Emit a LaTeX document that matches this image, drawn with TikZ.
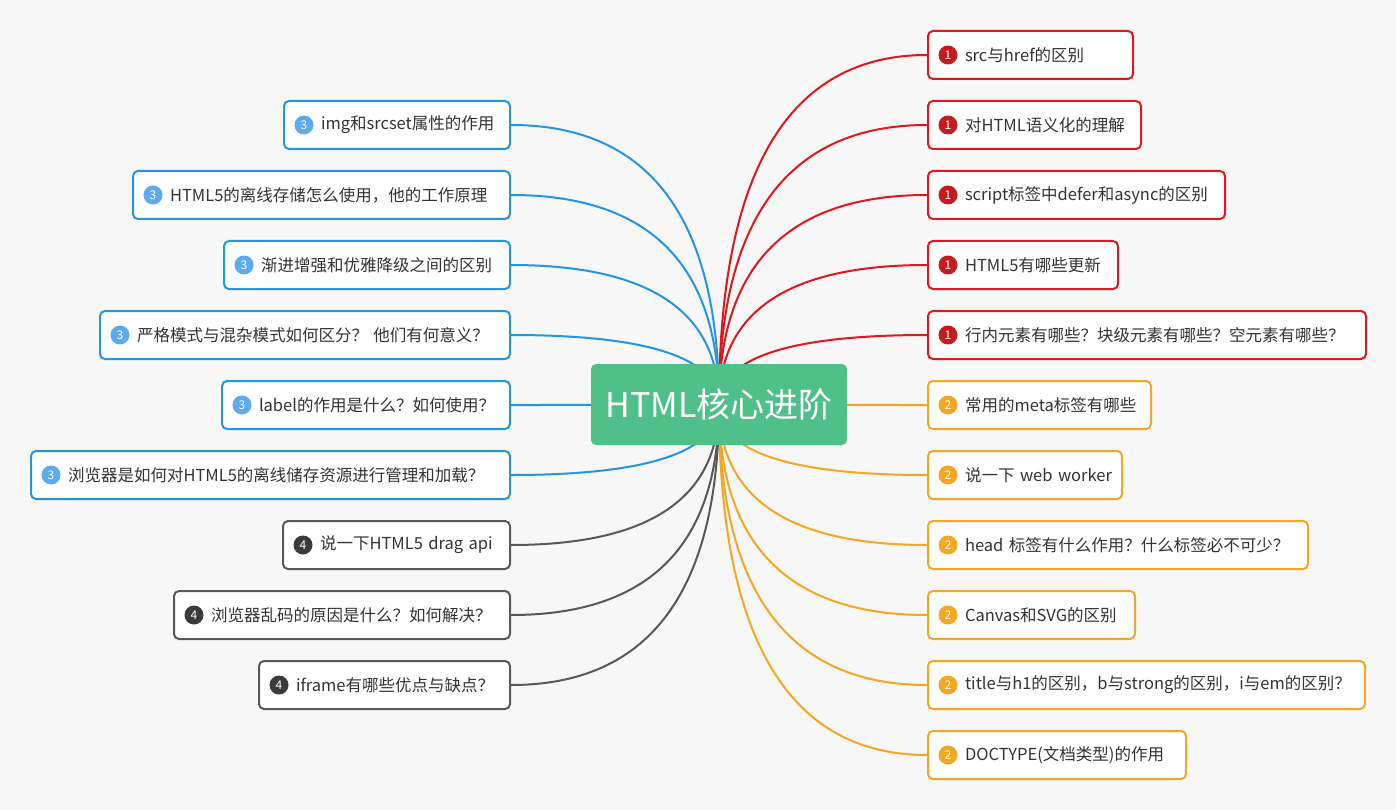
\documentclass[tikz,border=0pt]{standalone}
\usepackage{fontspec}
\setmainfont{Noto Sans CJK SC}
\usepackage{xcolor}
\usepackage{tikz}
\usetikzlibrary{positioning,calc}
\pgfdeclarelayer{back}
\pgfdeclarelayer{edges}
\pgfsetlayers{back,edges,main}
\definecolor{bggray}{RGB}{247,247,247}
\definecolor{hubgreen}{RGB}{80,192,138}
\definecolor{txtgray}{RGB}{51,51,51}
\definecolor{lred}{RGB}{226,22,28}
\definecolor{bred}{RGB}{196,28,32}
\definecolor{lorange}{RGB}{245,166,35}
\definecolor{lblue}{RGB}{36,148,228}
\definecolor{bblue}{RGB}{92,170,240}
\definecolor{lgray}{RGB}{88,88,88}
\definecolor{bgray}{RGB}{58,58,58}

\begin{document}
\begin{tikzpicture}[x=1pt,y=-1pt,
            hub node/.style={rectangle,rounded corners=5,fill=hubgreen,text=white,
            font=\fontsize{34}{40}\selectfont,minimum width=256,minimum height=81,inner sep=0},
            leaf/.style={rectangle,draw=#1,line width=2,rounded corners=5,fill=white,
            text=txtgray,font=\fontsize{16.5}{20}\selectfont,minimum height=48,
            inner xsep=10,inner ysep=0,align=left},
            badge/.style={circle,fill=#1,text=white,minimum size=19,inner sep=0,
            line width=0,font=\fontsize{12}{12}\selectfont,anchor=center,xshift=21},
            one/.style={leaf=lred,label={[badge=bred]west:1}},
            two/.style={leaf=lorange,label={[badge=lorange]west:2}},
            three/.style={leaf=lblue,label={[badge=bblue]west:3}},
            four/.style={leaf=lgray,label={[badge=bgray]west:4}}]

    \begin{pgfonlayer}{back}
        \fill[bggray] (0,0) rectangle (1396,810);
    \end{pgfonlayer}

    \node[hub node] (CoreHTML) at (719,404.5) {HTML核心进阶};

    % right side
    \node[one,text width=185,anchor=west] (SrcHref) at (927,55) {\hspace*{27pt}src与href的区别};
    \node[one,text width=193,below=20pt of SrcHref.south west,anchor=north west] (Semantics) {\hspace*{27pt}对HTML语义化的理解};
    \node[one,text width=277,below=20pt of Semantics.south west,anchor=north west] (DeferAsync) {\hspace*{27pt}script标签中defer和async的区别};
    \node[one,text width=170,below=20pt of DeferAsync.south west,anchor=north west] (HTMLUpdates) {\hspace*{27pt}HTML5有哪些更新};
    \node[one,text width=418,below=20pt of HTMLUpdates.south west,anchor=north west] (InlineBlock) {\hspace*{27pt}行内元素有哪些？块级元素有哪些？空元素有哪些？};
    \node[two,text width=203,below=20pt of InlineBlock.south west,anchor=north west] (MetaTags) {\hspace*{27pt}常用的meta标签有哪些};
    \node[two,text width=174,below=20pt of MetaTags.south west,anchor=north west] (WebWorker) {\hspace*{27pt}说一下 web worker};
    \node[two,text width=360,below=20pt of WebWorker.south west,anchor=north west] (HeadTag) {\hspace*{27pt}head 标签有什么作用？什么标签必不可少？};
    \node[two,text width=187,below=20pt of HeadTag.south west,anchor=north west] (CanvasSVG) {\hspace*{27pt}Canvas和SVG的区别};
    \node[two,text width=417,below=20pt of CanvasSVG.south west,anchor=north west] (TitleStrong) {\hspace*{27pt}title与h1的区别，b与strong的区别，i与em的区别？};
    \node[two,text width=238,below=20pt of TitleStrong.south west,anchor=north west] (Doctype) {\hspace*{27pt}DOCTYPE(文档类型)的作用};

    % left side
    \node[three,text width=206,anchor=east] (ImgSrcset) at (511,125) {\hspace*{27pt}img和srcset属性的作用};
    \node[three,text width=357,below=20pt of ImgSrcset.south east,anchor=north east] (OfflineStorage) {\hspace*{27pt}HTML5的离线存储怎么使用，他的工作原理};
    \node[three,text width=266,below=20pt of OfflineStorage.south east,anchor=north east] (Enhancement) {\hspace*{27pt}渐进增强和优雅降级之间的区别};
    \node[three,text width=390,below=20pt of Enhancement.south east,anchor=north east] (StrictQuirks) {\hspace*{27pt}严格模式与混杂模式如何区分？ 他们有何意义？};
    \node[three,text width=268,below=20pt of StrictQuirks.south east,anchor=north east] (LabelUse) {\hspace*{27pt}label的作用是什么？如何使用？};
    \node[three,text width=459,below=20pt of LabelUse.south east,anchor=north east] (OfflineLoading) {\hspace*{27pt}浏览器是如何对HTML5的离线储存资源进行管理和加载？};
    \node[four,text width=207,below=20pt of OfflineLoading.south east,anchor=north east] (DragApi) {\hspace*{27pt}说一下HTML5 drag api};
    \node[four,text width=316,below=20pt of DragApi.south east,anchor=north east] (Garbled) {\hspace*{27pt}浏览器乱码的原因是什么？如何解决？};
    \node[four,text width=231,below=20pt of Garbled.south east,anchor=north east] (Iframe) {\hspace*{27pt}iframe有哪些优点与缺点？};

    \begin{pgfonlayer}{edges}
        \foreach \n/\c in {SrcHref/lred,Semantics/lred,DeferAsync/lred,HTMLUpdates/lred,InlineBlock/lred,
                MetaTags/lorange,WebWorker/lorange,HeadTag/lorange,CanvasSVG/lorange,TitleStrong/lorange,Doctype/lorange}
            \draw[color=\c,line width=2] (CoreHTML.center)
                .. controls ($(CoreHTML.center)!2/3!(CoreHTML.center |- \n.west)$)
                and ($(\n.west)!2/3!(CoreHTML.center |- \n.west)$) .. (\n.west);
        \foreach \n/\c in {ImgSrcset/lblue,OfflineStorage/lblue,Enhancement/lblue,StrictQuirks/lblue,LabelUse/lblue,
                OfflineLoading/lblue,DragApi/lgray,Garbled/lgray,Iframe/lgray}
            \draw[color=\c,line width=2] (CoreHTML.center)
                .. controls ($(CoreHTML.center)!2/3!(CoreHTML.center |- \n.east)$)
                and ($(\n.east)!2/3!(CoreHTML.center |- \n.east)$) .. (\n.east);
    \end{pgfonlayer}
\end{tikzpicture}
\end{document}
